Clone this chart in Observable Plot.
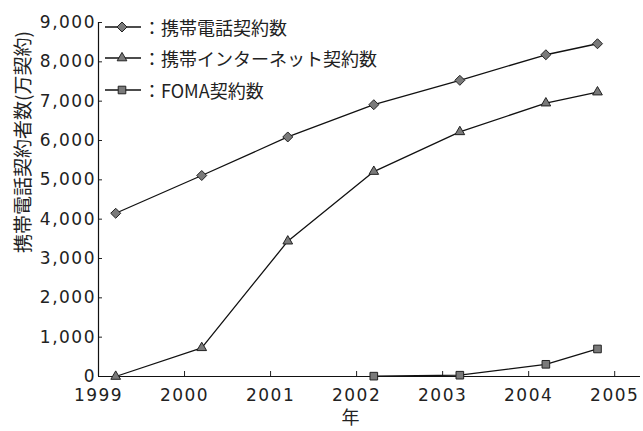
<!DOCTYPE html>
<html>
<head>
<meta charset="utf-8">
<script src="https://cdn.jsdelivr.net/npm/d3@7"></script>
<script src="https://cdn.jsdelivr.net/npm/@observablehq/plot@0.6"></script>
<style>
  body { margin: 0; background: #fff; }
  #chart { position: relative; width: 643px; height: 431px; }
  #chart svg g[aria-label$="tick label"] { letter-spacing: 1.5px; }
  #legend { position: absolute; left: 105px; top: 11px; font-family: "Noto Sans CJK JP", sans-serif; font-size: 18px; color: #222; }
  #legend .row { display: flex; align-items: center; height: 31.5px; white-space: nowrap; }
  #legend svg { margin-right: 2px; }
  #ytitle { position: absolute; left: 21px; top: 142px; transform: translate(-50%, -50%) rotate(-90deg);
            font-family: "Noto Sans CJK JP", sans-serif; font-size: 19px; color: #222; white-space: nowrap; line-height: 1; }
</style>
</head>
<body>
<div id="chart"></div>
<script>
// Subscriber counts (10,000 contracts), end of each fiscal period
const periods = [1999.2, 2000.2, 2001.2, 2002.2, 2003.2, 2004.2, 2004.8];
const mobileSubscribers = [4150, 5110, 6090, 6910, 7530, 8180, 8460];
const mobileInternet = [0, 730, 3440, 5210, 6220, 6950, 7230];
const fomaPeriods = [2002.2, 2003.2, 2004.2, 2004.8];
const fomaSubscribers = [9, 33, 310, 700];

const seriesNames = ["携帯電話契約数", "携帯インターネット契約数", "FOMA契約数"];
const seriesSymbols = ["diamond2", "triangle", "square"];
const seriesRadius = [4.5, 3.6, 4.3];

const xTicks = [1999, 2000, 2001, 2002, 2003, 2004, 2005];
const yTicks = [0, 1000, 2000, 3000, 4000, 5000, 6000, 7000, 8000, 9000];
const yTitle = "携帯電話契約者数(万契約)";
const xTitle = "年";

const rows = [
  ...periods.map((x, i) => ({series: seriesNames[0], x, y: mobileSubscribers[i]})),
  ...periods.map((x, i) => ({series: seriesNames[1], x, y: mobileInternet[i]})),
  ...fomaPeriods.map((x, i) => ({series: seriesNames[2], x, y: fomaSubscribers[i]}))
];

const markerFill = "#7a7a7a";
const markerStroke = "#222";

const chart = Plot.plot({
  width: 643,
  height: 431,
  marginLeft: 98,
  marginRight: 3,
  marginTop: 22,
  marginBottom: 55,
  style: {fontFamily: "DejaVu Sans", fontSize: "17px", color: "#222", background: "#fff"},
  x: {domain: [1999, 2005.3]},
  y: {domain: [0, 9000]},
  symbol: {domain: seriesNames, range: seriesSymbols},
  marks: [
    Plot.axisX(xTicks, {tickSize: -5, tickPadding: 17, tickFormat: d => String(d), label: null, fontSize: 17}),
    Plot.axisY(yTicks, {tickSize: -4, tickPadding: 6.5, tickFormat: d3.format(","), label: null, fontSize: 17}),
    Plot.ruleX([1999], {stroke: "#111", strokeWidth: 1.2}),
    Plot.ruleY([0], {stroke: "#111", strokeWidth: 1.2}),
    Plot.line(rows, {x: "x", y: "y", z: "series", stroke: "#111", strokeWidth: 1.3}),
    ...seriesNames.map((name, i) =>
      Plot.dot(rows.filter(d => d.series === name), {
        x: "x", y: "y", symbol: "series", r: seriesRadius[i],
        fill: markerFill, stroke: markerStroke, strokeWidth: 1
      })
    ),
    Plot.text([xTitle], {frameAnchor: "bottom", dx: -19, dy: 47,
      fontFamily: "Noto Sans CJK JP", fontSize: 18, fill: "#222"})
  ]
});

const container = document.getElementById("chart");
container.appendChild(chart);

// Rotated y-axis title
const yt = document.createElement("div");
yt.id = "ytitle";
yt.textContent = yTitle;
container.appendChild(yt);

// Legend drawn over the upper-left of the plot area
const d3Symbols = {diamond2: d3.symbolDiamond2, triangle: d3.symbolTriangle, square: d3.symbolSquare};
const legend = document.createElement("div");
legend.id = "legend";
seriesNames.forEach((name, i) => {
  const row = document.createElement("div");
  row.className = "row";
  const sw = d3.create("svg").attr("width", 36).attr("height", 16);
  sw.append("line").attr("x1", 0).attr("x2", 36).attr("y1", 8).attr("y2", 8)
    .attr("stroke", "#111").attr("stroke-width", 1.3);
  const sym = d3.symbol(d3Symbols[seriesSymbols[i]], Math.PI * seriesRadius[i] * seriesRadius[i]);
  sw.append("path").attr("d", sym()).attr("transform", "translate(17,8)")
    .attr("fill", markerFill).attr("stroke", markerStroke).attr("stroke-width", 1);
  row.appendChild(sw.node());
  const label = document.createElement("span");
  label.textContent = "：" + name;
  row.appendChild(label);
  legend.appendChild(row);
});
container.appendChild(legend);
</script>
</body>
</html>
